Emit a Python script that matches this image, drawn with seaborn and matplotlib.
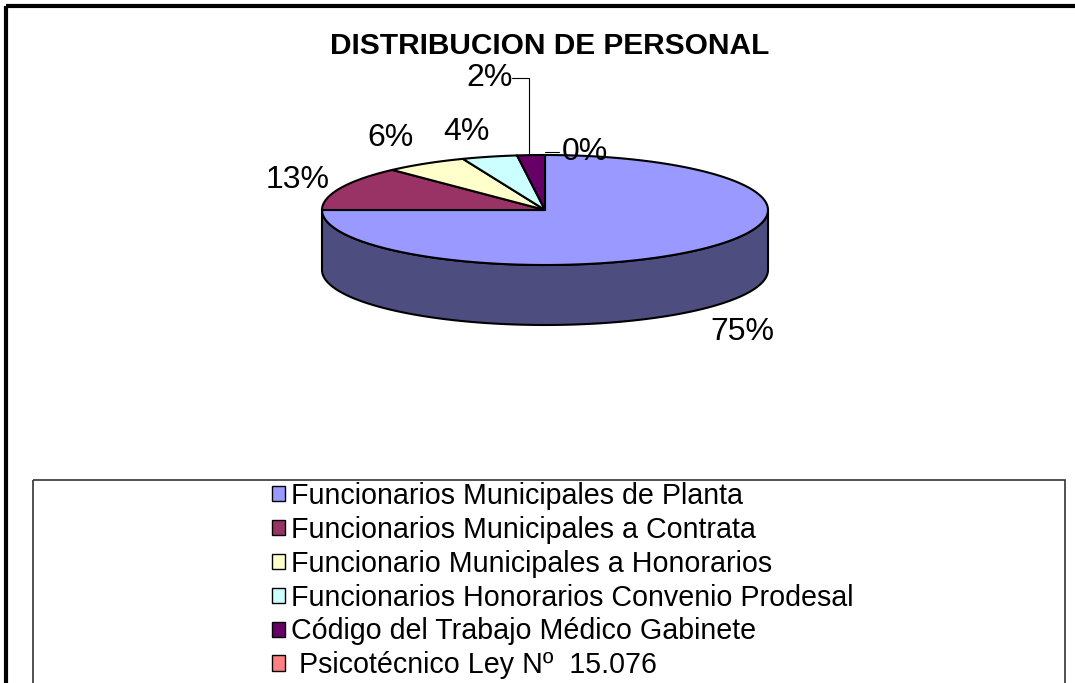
import numpy as np
import matplotlib
matplotlib.use("Agg")
import matplotlib.pyplot as plt
from matplotlib.patches import Polygon, Rectangle, Patch
import seaborn as sns

title = "DISTRIBUCION DE PERSONAL"
categories = [
    "Funcionarios Municipales de Planta",
    "Funcionarios Municipales a Contrata",
    "Funcionario Municipales a Honorarios",
    "Funcionarios Honorarios Convenio Prodesal",
    "Código del Trabajo Médico Gabinete",
    " Psicotécnico Ley Nº  15.076",
]
values = [75, 13, 6, 4, 2, 0]
colors = ["#9999FF", "#993366", "#FFFFCC", "#CCFFFF", "#660066", "#FF8080"]

sns.set_style("white")
plt.rcParams['font.family'] = ['Liberation Sans', 'DejaVu Sans']
plt.rcParams['text.color'] = 'black'

fig = plt.figure(figsize=(10.75, 6.83), dpi=100)
ax = fig.add_axes([0, 0, 1, 1])
ax.set_xlim(0, 1075)
ax.set_ylim(683, 0)
ax.axis('off')

# pie geometry (pixels)
cx, cy, rx, ry, depth = 545, 210, 223, 55, 60


def rim(t, dy=0):
    t = np.radians(t)
    return np.column_stack([cx + rx * np.cos(t), cy - ry * np.sin(t) + dy])


fracs = np.array(values, dtype=float) / sum(values)
ends = 90 - 360 * np.cumsum(fracs)
starts = ends + 360 * fracs
side_cols = [tuple(0.5 * np.array(matplotlib.colors.to_rgb(c))) for c in colors]

# side walls (front half only)
for s, e, sc in zip(starts, ends, side_cols):
    for lo, hi in [(-540, -360), (-180, 0), (180, 360)]:
        a, b = max(e, lo), min(s, hi)
        if b - a <= 0:
            continue
        t = np.linspace(a, b, 100)
        pts = np.vstack([rim(t), rim(t[::-1], depth)])
        ax.add_patch(Polygon(pts, closed=True, facecolor=sc,
                             edgecolor='black', linewidth=1.5, joinstyle='round'))

# top faces
for s, e, c in zip(starts, ends, colors):
    if s - e <= 0:
        continue
    t = np.linspace(s, e, 200)
    pts = np.vstack([[cx, cy], rim(t)])
    ax.add_patch(Polygon(pts, closed=True, facecolor=c,
                         edgecolor='black', linewidth=1.5, joinstyle='round'))

# percentage labels
offsets = [(40, 23), (-43, -8), (-35, -26), (-23, -25), (-41, -77), (40, -3)]
mids = (starts + ends) / 2
for i, (m, v) in enumerate(zip(mids, fracs)):
    p = rim([m], depth if np.sin(np.radians(m)) < 0 else 0)[0]
    lx, ly = p[0] + offsets[i][0], p[1] + offsets[i][1]
    ax.text(lx, ly, f"{v * 100:.0f}%", ha='center', va='center', fontsize=23)
    if i == 4:
        ax.plot([lx + 22, lx + 34, p[0] - 2, p[0] - 2], [ly, ly, ly, p[1]],
                color='black', lw=0.8)
    if i == 5:
        ax.plot([p[0], lx - 26], [ly, ly], color='black', lw=0.8)

ax.text(550, 46, title, ha='center', va='center', fontsize=21.5, fontweight='bold')

# frames
ax.add_patch(Rectangle((6, 6), 1100, 700, fill=False, edgecolor='black', linewidth=3))
ax.add_patch(Rectangle((33, 480), 1032, 260, fill=False, edgecolor='#333333', linewidth=1.2))

handles = [Patch(facecolor=c, edgecolor='black', linewidth=1) for c in colors]
ax.legend(handles, categories, loc='upper left',
          bbox_to_anchor=(272 / 1075, 1 - 482 / 683),
          frameon=False, fontsize=20.6, handlelength=0.45, handleheight=0.45,
          handletextpad=0.2, labelspacing=0.205, borderpad=0, borderaxespad=0)

fig.savefig("out.png", dpi=100)
plt.close(fig)
